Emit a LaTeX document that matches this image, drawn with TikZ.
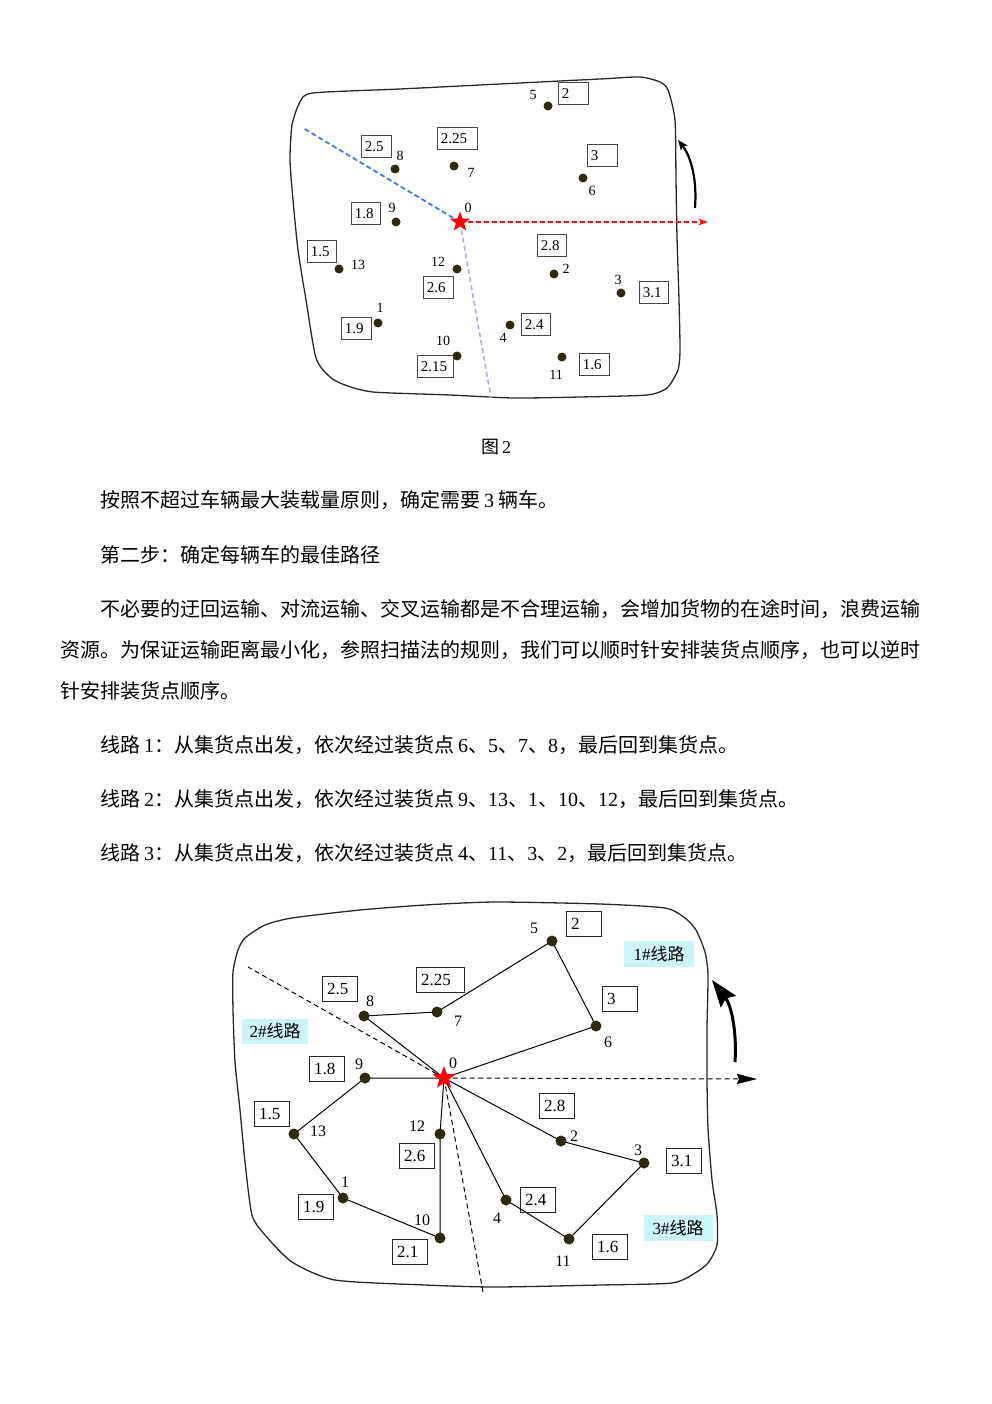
\documentclass[tikz,border=0pt]{standalone}
\usepackage{fontspec}
\setmainfont{Liberation Serif}
\newfontfamily\cjk{Noto Sans CJK SC}
\usetikzlibrary{shapes.geometric,arrows.meta}
\definecolor{dotc}{RGB}{45,42,15}
\definecolor{cbg}{RGB}{204,245,250}
\definecolor{dblue}{RGB}{70,120,230}
\definecolor{dpurple}{RGB}{195,165,240}
\definecolor{dred}{RGB}{240,20,20}
\definecolor{framec}{RGB}{40,40,40}
\definecolor{boxc}{RGB}{70,70,70}
\newcommand{\zh}[1]{{\cjk #1}}
\tikzset{
  dotA/.style={circle, fill=dotc, inner sep=0pt, minimum size=9pt},
  dotB/.style={circle, fill=dotc, inner sep=0pt, minimum size=11pt},
  starnode/.style={star, star points=5, star point ratio=2.4, fill=red, draw=none, inner sep=0pt},
  boxA/.style={draw=boxc, line width=0.9pt, minimum height=22pt, inner xsep=3.5pt, inner ysep=0pt, align=left, anchor=north west, font=\fontsize{15}{15}\selectfont},
  boxB/.style={draw=black!85, line width=1pt, minimum height=25pt, inner xsep=4.5pt, inner ysep=0pt, align=left, anchor=north west, font=\fontsize{17}{17}\selectfont},
  lblA/.style={inner sep=0pt, font=\fontsize{14}{14}\selectfont},
  lblB/.style={inner sep=0pt, font=\fontsize{16}{16}\selectfont},
  route/.style={fill=cbg, inner sep=0pt, minimum height=26pt, font=\fontsize{17}{17}\selectfont},
  bodytext/.style={anchor=west, inner sep=0pt, font=\fontsize{20}{24}\selectfont},
  edge/.style={line width=1pt, black},
  boundary/.style={line width=1.3pt, framec},
}
\begin{document}
\begin{tikzpicture}[x=1pt,y=-1pt]
\useasboundingbox (0,0) rectangle (991,1404);
\fill[white] (0,0) rectangle (991,1404);

%%%%%%%%%%%%%%%% Figure 1 %%%%%%%%%%%%%%%%
\draw[boundary] plot[smooth cycle, tension=0.4] coordinates {
 (300,102) (313,93) (400,89) (500,84) (600,79) (640,77) (660,82) (668,90) (675,120)
 (676,180) (677,237) (679,300) (680,350) (678,370) (667,388) (647,395) (580,397)
 (513,398) (450,395) (373,392) (345,385) (330,377) (316,358) (306,300) (298,250)
 (293,200) (290,160) (292,125)};

\coordinate (o1) at (460,222);
\coordinate (e1b) at (303,128);
\coordinate (e1p) at (491,398);
\coordinate (e1r) at (708,222);
\draw[dblue, line width=1.8pt, dash pattern=on 5pt off 3pt] (o1) -- (e1b);
\draw[dpurple, line width=1.6pt, dash pattern=on 5pt off 3pt] (o1) -- (e1p);
\draw[dred, line width=2pt, dash pattern=on 5pt off 3pt, -{Stealth[length=10pt,width=7pt]}] (o1) -- (e1r);
\node[starnode, minimum size=21pt] (s1) at (o1) {};

\foreach \n/\x/\y in {5/548/106, 8/395/169, 7/454/166, 6/583/178, 9/396/222, 13/339/269,
  12/457/269, 2/554/274, 3/621/293, 1/378/323, 4/510/325, 10/457/356, 11/562/357}
  \node[dotA] (da\n) at (\x,\y) {};

\foreach \n/\x/\y in {0/468/208, 5/533/95, 8/400/156, 7/471/173, 6/592/191, 9/392/208,
  13/358/265, 12/438/262, 2/566/269, 3/618/280, 1/380/308, 4/503/338, 10/443/341, 11/556/375}
  \node[lblA] (la\n) at (\x,\y) {\n};

\foreach \n/\x/\y/\w/\t in {5/558/82/30/2, 8/361/135/30/2.5, 7/437/127/40/2.25, 6/587/144/30/3,
  9/351/202/29/1.8, 13/307/240/29/1.5, 12/423/276/30/2.6, 2/537/234/29/2.8, 3/639/281/29/3.1,
  1/341/317/30/1.9, 4/521/313/29/2.4, 10/417/355/36/2.15, 11/579/353/30/1.6}
  \node[boxA, text width=\w pt-7pt] (ba\n) at (\x,\y) {\t};

\coordinate (a1s) at (695,208);
\coordinate (a1e) at (678,140);
\draw[line width=2.2pt, -{Stealth[length=10pt,width=8pt,inset=2pt]}] (a1s) .. controls (697,182) and (692,158) .. (a1e);

\node[font=\fontsize{18}{20}\selectfont, inner sep=0pt] (cap) at (496,447) {\zh{图}\,2};

%%%%%%%%%%%%%%%% Text %%%%%%%%%%%%%%%%
\node[bodytext] (t1) at (100,500) {\zh{按照不超过车辆最大装载量原则，确定需要}\hspace{4pt}3\hspace{4pt}\zh{辆车。}};
\node[bodytext] (t2) at (100,555) {\zh{第二步：确定每辆车的最佳路径}};
\node[bodytext] (t3) at (100,609) {\zh{不必要的迂回运输、对流运输、交叉运输都是不合理运输，会增加货物的在途时间，浪费运输}};
\node[bodytext] (t4) at (60,650) {\zh{资源。为保证运输距离最小化，参照扫描法的规则，我们可以顺时针安排装货点顺序，也可以逆时}};
\node[bodytext] (t5) at (60,691) {\zh{针安排装货点顺序。}};
\node[bodytext] (t6) at (100,745) {\zh{线路}\hspace{4pt}1\zh{：从集货点出发，依次经过装货点}\hspace{4pt}6\zh{、}5\zh{、}7\zh{、}8\zh{，最后回到集货点。}};
\node[bodytext] (t7) at (100,799) {\zh{线路}\hspace{4pt}2\zh{：从集货点出发，依次经过装货点}\hspace{4pt}9\zh{、}13\zh{、}1\zh{、}10\zh{、}12\zh{，最后回到集货点。}};
\node[bodytext] (t8) at (100,853) {\zh{线路}\hspace{4pt}3\zh{：从集货点出发，依次经过装货点}\hspace{4pt}4\zh{、}11\zh{、}3\zh{、}2\zh{，最后回到集货点。}};

%%%%%%%%%%%%%%%% Figure 2 %%%%%%%%%%%%%%%%
\draw[boundary] plot[smooth cycle, tension=0.4] coordinates {
 (245,938) (265,925) (292,918) (360,910) (425,905) (495,902) (600,904) (665,908)
 (685,918) (696,930) (705,952) (708,975) (707,1028) (707,1080) (708,1128) (712,1180)
 (717,1215) (717,1245) (708,1263) (695,1273) (672,1283) (600,1285) (495,1287)
 (425,1285) (335,1280) (292,1262) (265,1235) (252,1215) (245,1162) (240,1110)
 (235,1062) (233,1010) (233,972) (238,950)};

\coordinate (o2) at (444,1078);
\foreach \n/\x/\y in {5/552/941, 8/364/1016, 7/437/1012, 6/596/1026, 9/365/1078, 13/294/1134,
  12/440/1134, 2/561/1141, 3/644/1163, 1/343/1198, 4/506/1200, 10/440/1238, 11/569/1239}
  \coordinate (p\n) at (\x,\y);

\coordinate (e2l) at (248,967);
\coordinate (e2d) at (483,1292);
\coordinate (e2r) at (757,1079);
\draw[line width=1pt, dash pattern=on 5pt off 3.5pt] (o2) -- (e2l);
\draw[line width=1pt, dash pattern=on 5pt off 3.5pt] (o2) -- (e2d);
\draw[line width=1pt, dash pattern=on 5pt off 3.5pt, -{Stealth[length=20pt,width=10pt,inset=2pt]}] (o2) -- (e2r);

% route 1
\draw[edge] (o2) -- (p6) -- (p5) -- (p7) -- (p8) -- (o2);
% route 2
\draw[edge] (o2) -- (p9) -- (p13) -- (p1) -- (p10) -- (p12) -- (o2);
% route 3
\draw[edge] (o2) -- (p4) -- (p11) -- (p3) -- (p2) -- (o2);

\node[starnode, minimum size=24pt] (s2) at (o2) {};
\foreach \n in {5,8,7,6,9,13,12,2,3,1,4,10,11}
  \node[dotB] (db\n) at (p\n) {};

\foreach \n/\x/\y in {0/453/1063, 5/534/928, 8/370/1001, 7/458/1021, 6/608/1042, 9/359/1064,
  13/318/1131, 12/417/1126, 2/574/1136, 3/638/1150, 1/345/1182, 4/497/1218, 10/422/1220, 11/563/1261}
  \node[lblB] (lb\n) at (\x,\y) {\n};

\foreach \n/\x/\y/\w/\t in {5/566/911/35/2, 8/322/976/35/2.5, 7/416/967/48/2.25, 6/602/986/35/3,
  9/309/1056/35/1.8, 13/254/1101/35/1.5, 12/399/1143/35/2.6, 2/539/1093/35/2.8, 3/666/1148/35/3.1,
  1/298/1194/35/1.9, 4/520/1187/35/2.4, 10/392/1239/35/2.1, 11/592/1234/35/1.6}
  \node[boxB, text width=\w pt-9pt] (bb\n) at (\x,\y) {\t};

\node[route, minimum width=70pt] (r1) at (659,954) {1\#\zh{线路}};
\node[route, minimum width=66pt, minimum height=25pt] (r2) at (275,1031) {2\#\zh{线路}};
\node[route, minimum width=69pt] (r3) at (678,1228) {3\#\zh{线路}};

\coordinate (a2s) at (735,1062);
\coordinate (a2e) at (712,980);
\draw[line width=3pt, -{Stealth[length=27pt,width=19pt,inset=4pt]}] (a2s) .. controls (737,1030) and (731,1005) .. (a2e);
\end{tikzpicture}
\end{document}
